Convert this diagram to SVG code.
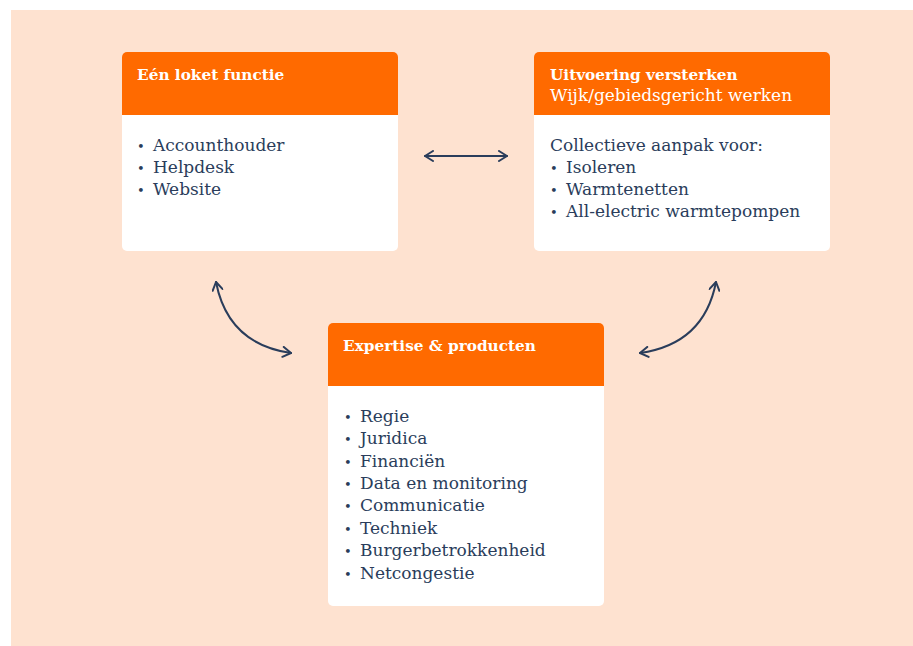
<svg xmlns="http://www.w3.org/2000/svg" width="913" height="646" viewBox="0 0 913 646">
<defs>
<style>
.bg{fill:#fee2d0}
.card{fill:#ffffff}
.head{fill:#ff6a00}
.title{font-family:"DejaVu Serif",serif;font-weight:bold;font-size:15.3px;fill:#ffffff}
.sub{font-family:"DejaVu Serif",serif;font-size:17px;fill:#ffffff}
.item{font-family:"DejaVu Serif",serif;font-size:17px;fill:#2a3d5b}
.dot{font-size:13px}
.conn{fill:none;stroke:#2a3d5b;stroke-width:2;stroke-linecap:round;stroke-linejoin:round}
</style>
<marker id="ah" viewBox="0 0 12 12" refX="10" refY="6" markerWidth="12" markerHeight="12" markerUnits="userSpaceOnUse" orient="auto-start-reverse">
<path d="M2,1 L10,6 L2,11" fill="none" stroke="#2a3d5b" stroke-width="2" stroke-linecap="round" stroke-linejoin="round"/>
</marker>
</defs>
<rect class="bg" x="11" y="10" width="902" height="636"/>
<g id="node-loket">
<rect class="card" x="122" y="52" width="276" height="199" rx="5"/>
<path class="head" d="M122,115 V57 a5,5 0 0 1 5,-5 H393 a5,5 0 0 1 5,5 V115 Z"/>
<text class="title" x="137" y="80">Eén loket functie</text>
<text class="item" x="137" y="151"><tspan class="dot">•</tspan><tspan x="153">Accounthouder</tspan></text>
<text class="item" x="137" y="173"><tspan class="dot">•</tspan><tspan x="153">Helpdesk</tspan></text>
<text class="item" x="137" y="195"><tspan class="dot">•</tspan><tspan x="153">Website</tspan></text>
</g>
<g id="node-uitvoering">
<rect class="card" x="534" y="52" width="296" height="199" rx="5"/>
<path class="head" d="M534,115 V57 a5,5 0 0 1 5,-5 H825 a5,5 0 0 1 5,5 V115 Z"/>
<text class="title" x="550" y="80">Uitvoering versterken</text>
<text class="sub" x="550" y="101">Wijk/gebiedsgericht werken</text>
<text class="item" x="550" y="151">Collectieve aanpak voor:</text>
<text class="item" x="550" y="173"><tspan class="dot">•</tspan><tspan x="566">Isoleren</tspan></text>
<text class="item" x="550" y="195"><tspan class="dot">•</tspan><tspan x="566">Warmtenetten</tspan></text>
<text class="item" x="550" y="217"><tspan class="dot">•</tspan><tspan x="566">All-electric warmtepompen</tspan></text>
</g>
<g id="node-expertise">
<rect class="card" x="328" y="323" width="276" height="283" rx="5"/>
<path class="head" d="M328,386 V328 a5,5 0 0 1 5,-5 H599 a5,5 0 0 1 5,5 V386 Z"/>
<text class="title" x="343" y="351">Expertise &amp; producten</text>
<text class="item" x="344" y="422"><tspan class="dot">•</tspan><tspan x="360">Regie</tspan></text>
<text class="item" x="344" y="444"><tspan class="dot">•</tspan><tspan x="360">Juridica</tspan></text>
<text class="item" x="344" y="467"><tspan class="dot">•</tspan><tspan x="360">Financiën</tspan></text>
<text class="item" x="344" y="489"><tspan class="dot">•</tspan><tspan x="360">Data en monitoring</tspan></text>
<text class="item" x="344" y="511"><tspan class="dot">•</tspan><tspan x="360">Communicatie</tspan></text>
<text class="item" x="344" y="534"><tspan class="dot">•</tspan><tspan x="360">Techniek</tspan></text>
<text class="item" x="344" y="556"><tspan class="dot">•</tspan><tspan x="360">Burgerbetrokkenheid</tspan></text>
<text class="item" x="344" y="579"><tspan class="dot">•</tspan><tspan x="360">Netcongestie</tspan></text>
</g>
<g id="connectors">
<path class="conn" d="M425,156 H507" marker-start="url(#ah)" marker-end="url(#ah)"/>
<path class="conn" d="M216,282 Q228,344 291,353" marker-start="url(#ah)" marker-end="url(#ah)"/>
<path class="conn" d="M716,282 Q704,344 640,353" marker-start="url(#ah)" marker-end="url(#ah)"/>
</g>
</svg>
